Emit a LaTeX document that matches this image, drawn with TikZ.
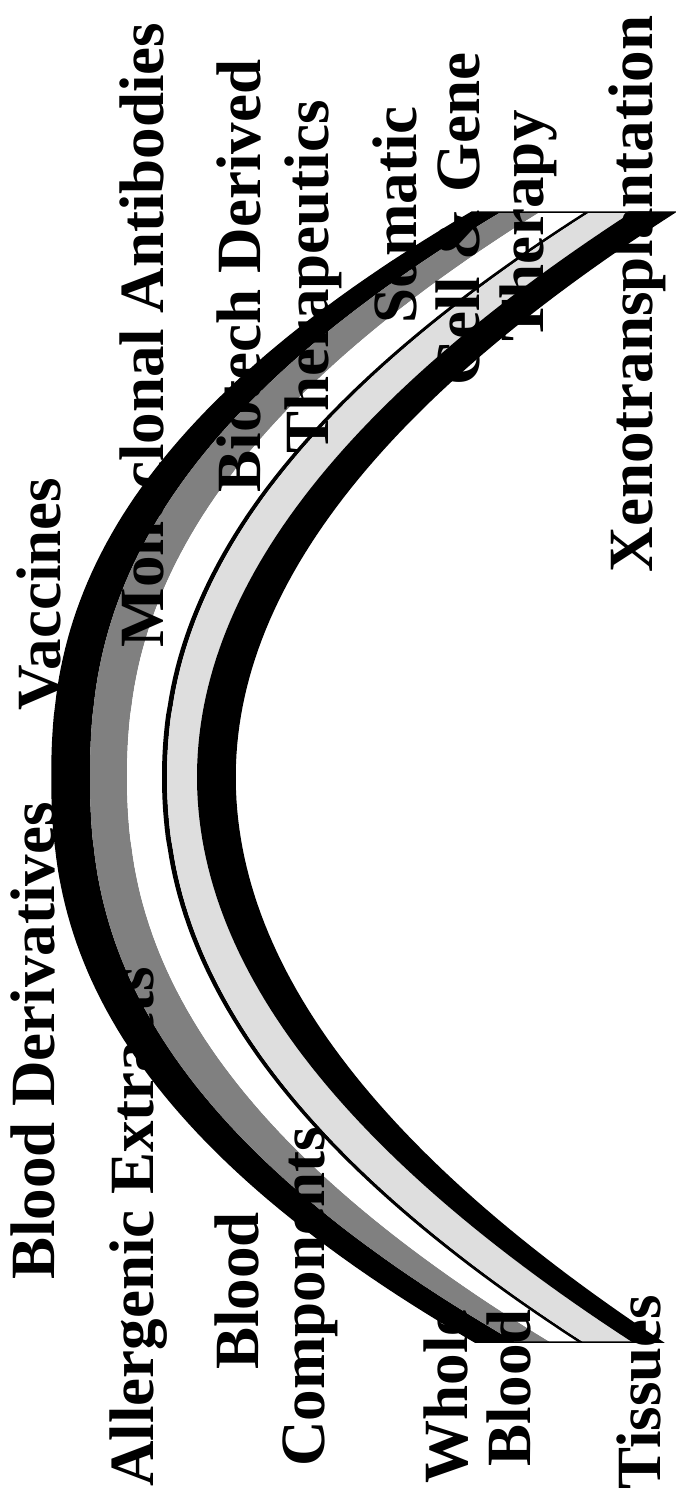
\documentclass[tikz,border=0pt]{standalone}
\usepackage{fontspec}
\setmainfont{Liberation Serif}
% one boundary of the arc at height #1: apex x (#2), x at the top cut (#3), x at the bottom cut (#4), shape exponent (#5)
\pgfmathdeclarefunction{bx}{5}{\pgfmathparse{#2+((#1<777)*(#3-#2)+(#1>=777)*(#4-#2))*((abs(#1-777)/565+0.0001)^(#5))}}
\tikzset{
  fw/.style={domain=212:1342,samples=120,variable=\t},
  bw/.style={domain=1342:212,samples=120,variable=\t},
  lbl/.style={rotate=90, anchor=base, inner sep=0pt, text depth=0pt, font=\bfseries\fontsize{63}{63}\selectfont},
  blackband/.style={fill=black},
  grayband/.style={fill=black!50},
  lightband/.style={fill=black!13},
  whiteband/.style={fill=white}
}
\begin{document}
\begin{tikzpicture}[x=1pt,y=-1pt]
\useasboundingbox (0,0) rectangle (675,1496);
\fill[white] (0,0) rectangle (675,1496);
% bands, outer to inner
\fill[blackband] plot[fw] ({bx(\t,52,472,475,2.3)},\t) -- plot[bw] ({bx(\t,90,501,515,2.3)},\t) -- cycle;
\fill[grayband]  plot[fw] ({bx(\t,90,501,515,2.3)},\t) -- plot[bw] ({bx(\t,127,540,550,2.2)},\t) -- cycle;
\fill[whiteband] plot[fw] ({bx(\t,127,540,550,2.2)},\t) -- plot[bw] ({bx(\t,162,585,578,2.1)},\t) -- cycle;
\fill[blackband] plot[fw] ({bx(\t,162,585,578,2.1)},\t) -- plot[bw] ({bx(\t,167,590,583,2.1)},\t) -- cycle;
\fill[lightband] plot[fw] ({bx(\t,167,590,583,2.1)},\t) -- plot[bw] ({bx(\t,197,632,632,2.0)},\t) -- cycle;
\fill[blackband] plot[fw] ({bx(\t,197,632,632,2.0)},\t) -- plot[bw] ({bx(\t,235,675,662,2.0)},\t) -- cycle;
\draw[line width=1.5pt] plot[fw] ({bx(\t,52,472,475,2.3)},\t) -- plot[bw] ({bx(\t,235,675,662,2.0)},\t) -- cycle;
% labels
\node[lbl] (bd)  at (54,1041) {Blood Derivatives};
\node[lbl] (vac) at (60,594) {Vaccines};
\node[lbl] (all) at (153,1227) {Allergenic Extracts};
\node[lbl] (mab) at (163,335) {Monoclonal Antibodies};
\node[lbl] (bc1) at (258,1291) {Blood};
\node[lbl] (bc2) at (324,1297) {Components};
\node[lbl] (bt1) at (260,276) {Biotech Derived};
\node[lbl] (bt2) at (328,277) {Therapeutics};
\node[lbl] (sg1) at (416,215) {Somatic};
\node[lbl] (sg2) at (479,219) {Cell \& Gene};
\node[lbl] (sg3) at (543,226) {Therapy};
\node[lbl] (xen) at (652,294) {Xenotransplantation};
\node[lbl] (wb1) at (467,1396) {Whole};
\node[lbl] (wb2) at (530,1388) {Blood};
\node[lbl] (tis) at (660,1392) {Tissues};
\end{tikzpicture}
\end{document}
